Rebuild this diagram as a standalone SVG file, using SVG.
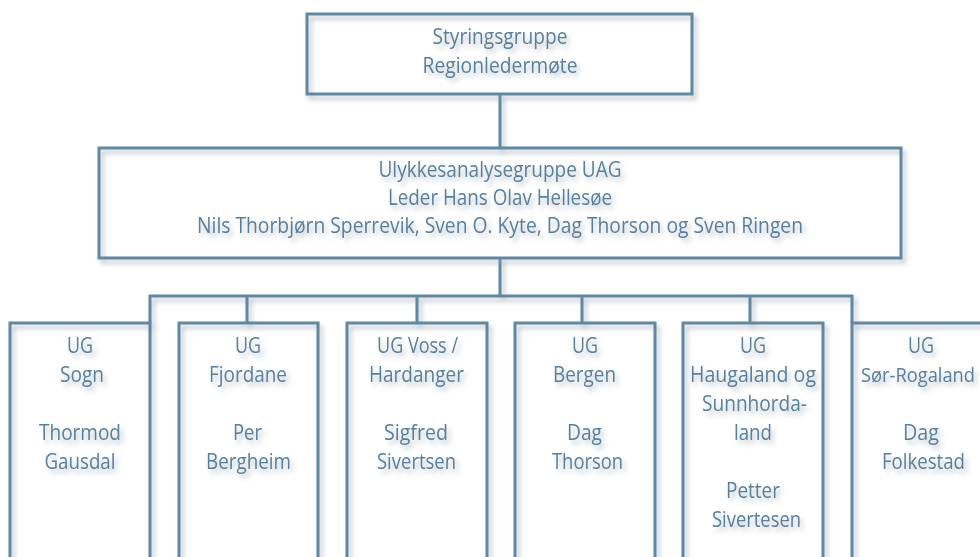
<svg xmlns="http://www.w3.org/2000/svg" width="980" height="557" viewBox="0 0 980 557">
<defs>
<filter id="sh" x="-10%" y="-10%" width="120%" height="130%">
<feDropShadow dx="3" dy="4" stdDeviation="2.5" flood-color="#8f9ba6" flood-opacity="0.6"/>
</filter>
</defs>
<style>
.box{fill:none;stroke:#5f88a4;stroke-width:3}
.ln{fill:none;stroke:#5f88a4;stroke-width:3}
text{font-family:"Open Sans","Noto Sans","Liberation Sans",sans-serif;font-size:22px;fill:#56809f;text-anchor:middle}
</style>
<rect width="980" height="557" fill="#ffffff"/>
<g id="connectors" filter="url(#sh)">
<path class="ln" d="M500,94 V148"/>
<path class="ln" d="M500,258 V296"/>
<path class="ln" d="M150,323 V296 H852 V323"/>
<path class="ln" d="M247,296 V323"/>
<path class="ln" d="M417,296 V323"/>
<path class="ln" d="M582,296 V323"/>
<path class="ln" d="M750,296 V323"/>
</g>
<g id="styringsgruppe" filter="url(#sh)">
<rect class="box" x="307" y="14" width="385" height="80"/>
<text x="500" y="44" textLength="135" lengthAdjust="spacingAndGlyphs">Styringsgruppe</text>
<text x="500" y="73" textLength="155" lengthAdjust="spacingAndGlyphs">Regionledermøte</text>
</g>
<g id="uag" filter="url(#sh)">
<rect class="box" x="99" y="148" width="802" height="110"/>
<text x="500" y="177" textLength="243" lengthAdjust="spacingAndGlyphs">Ulykkesanalysegruppe UAG</text>
<text x="500" y="205" textLength="224" lengthAdjust="spacingAndGlyphs">Leder Hans Olav Hellesøe</text>
<text x="500" y="233" textLength="606" lengthAdjust="spacingAndGlyphs">Nils Thorbjørn Sperrevik, Sven O. Kyte, Dag Thorson og Sven Ringen</text>
</g>
<g id="ug-sogn" filter="url(#sh)">
<rect class="box" x="10" y="323" width="140" height="260"/>
<text x="80" y="353" textLength="26" lengthAdjust="spacingAndGlyphs">UG</text>
<text x="82" y="382" textLength="44" lengthAdjust="spacingAndGlyphs">Sogn</text>
<text x="80" y="440" textLength="82" lengthAdjust="spacingAndGlyphs">Thormod</text>
<text x="80" y="469" textLength="71" lengthAdjust="spacingAndGlyphs">Gausdal</text>
</g>
<g id="ug-fjordane" filter="url(#sh)">
<rect class="box" x="179" y="323" width="139" height="260"/>
<text x="248" y="353" textLength="26" lengthAdjust="spacingAndGlyphs">UG</text>
<text x="248" y="382" textLength="78" lengthAdjust="spacingAndGlyphs">Fjordane</text>
<text x="247.5" y="440" textLength="29" lengthAdjust="spacingAndGlyphs">Per</text>
<text x="248.5" y="469" textLength="85" lengthAdjust="spacingAndGlyphs">Bergheim</text>
</g>
<g id="ug-voss" filter="url(#sh)">
<rect class="box" x="347" y="323" width="140" height="260"/>
<text x="417.5" y="353" textLength="81" lengthAdjust="spacingAndGlyphs">UG Voss /</text>
<text x="416.5" y="382" textLength="95" lengthAdjust="spacingAndGlyphs">Hardanger</text>
<text x="416" y="440" textLength="64" lengthAdjust="spacingAndGlyphs">Sigfred</text>
<text x="416.5" y="469" textLength="79" lengthAdjust="spacingAndGlyphs">Sivertsen</text>
</g>
<g id="ug-bergen" filter="url(#sh)">
<rect class="box" x="515" y="323" width="140" height="260"/>
<text x="585" y="353" textLength="26" lengthAdjust="spacingAndGlyphs">UG</text>
<text x="584.5" y="382" textLength="63" lengthAdjust="spacingAndGlyphs">Bergen</text>
<text x="584.5" y="440" textLength="35" lengthAdjust="spacingAndGlyphs">Dag</text>
<text x="587.5" y="469" textLength="71" lengthAdjust="spacingAndGlyphs">Thorson</text>
</g>
<g id="ug-haugaland" filter="url(#sh)">
<rect class="box" x="683" y="323" width="140" height="260"/>
<text x="753" y="353" textLength="26" lengthAdjust="spacingAndGlyphs">UG</text>
<text x="753" y="382" textLength="126" lengthAdjust="spacingAndGlyphs">Haugaland og</text>
<text x="754.5" y="411" textLength="105" lengthAdjust="spacingAndGlyphs">Sunnhorda-</text>
<text x="753" y="440" textLength="38" lengthAdjust="spacingAndGlyphs">land</text>
<text x="753" y="498" textLength="54" lengthAdjust="spacingAndGlyphs">Petter</text>
<text x="756.5" y="527" textLength="89" lengthAdjust="spacingAndGlyphs">Sivertesen</text>
</g>
<g id="ug-sor-rogaland" filter="url(#sh)">
<rect class="box" x="852" y="323" width="140" height="260"/>
<text x="921" y="353" textLength="26" lengthAdjust="spacingAndGlyphs">UG</text>
<text x="918" y="382" style="font-size:20px" textLength="114" lengthAdjust="spacingAndGlyphs">Sør-Rogaland</text>
<text x="921" y="440" textLength="36" lengthAdjust="spacingAndGlyphs">Dag</text>
<text x="923.5" y="469" textLength="83" lengthAdjust="spacingAndGlyphs">Folkestad</text>
</g>
</svg>
